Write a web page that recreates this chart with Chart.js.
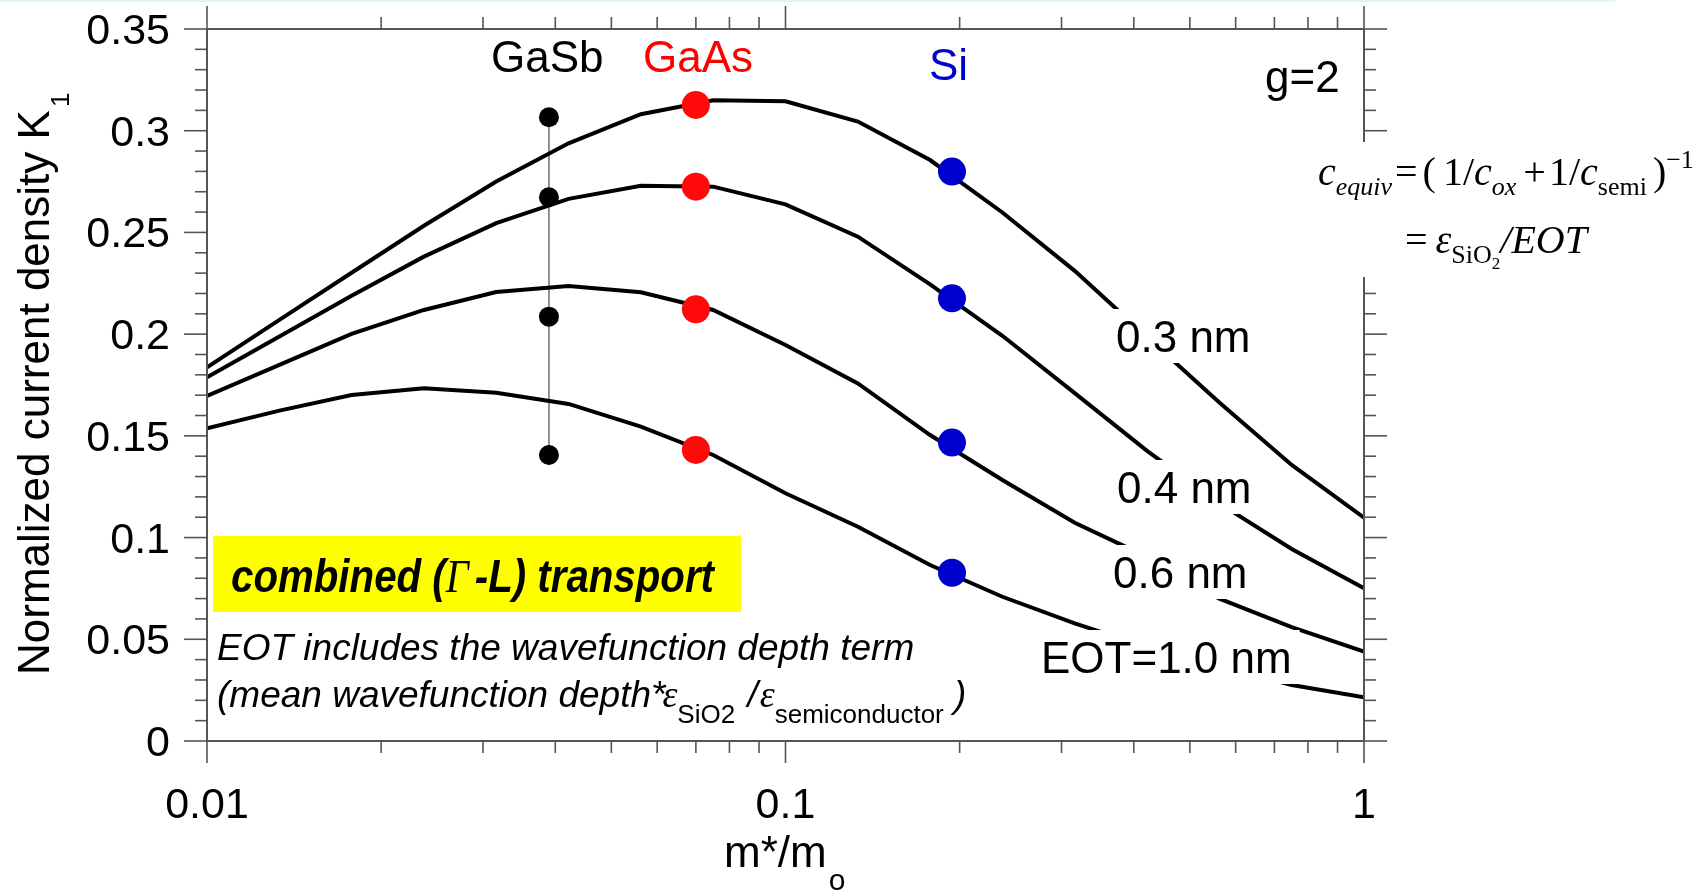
<!DOCTYPE html>
<html>
<head>
<meta charset="utf-8">
<script src="https://cdn.jsdelivr.net/npm/chart.js@4.4.1/dist/chart.umd.min.js"></script>
<style>
  html, body { margin: 0; padding: 0; background: #fff; }
  #chart { display: block; }
</style>
</head>
<body>
<canvas id="chart" width="1703" height="896" style="width:1703px;height:896px"></canvas>
<script>
// m*/mo grid the curves were computed on (8 points per decade)
const mass = [0.01, 0.01334, 0.01778, 0.02371, 0.03162, 0.04217, 0.05623, 0.07499, 0.1,
              0.1334, 0.1778, 0.2371, 0.3162, 0.4217, 0.5623, 0.7499, 1.0]

// normalized current density K1, one curve per EOT
const k1Eot03 = [0.1837, 0.2070, 0.2302, 0.2533, 0.2750, 0.2938, 0.3081, 0.3150, 0.3145,
                 0.3045, 0.2856, 0.2598, 0.2311, 0.1986, 0.1664, 0.1357, 0.1098]
const k1Eot04 = [0.1788, 0.1988, 0.2189, 0.2381, 0.2546, 0.2665, 0.2729, 0.2725, 0.2638,
                 0.2479, 0.2245, 0.1992, 0.1710, 0.1426, 0.1168, 0.0944, 0.0751]
const k1Eot06 = [0.1696, 0.1849, 0.2001, 0.2119, 0.2207, 0.2237, 0.2206, 0.2119, 0.1947,
                 0.1758, 0.1504, 0.1283, 0.1073, 0.0905, 0.0700, 0.0560, 0.0439]
const k1Eot10 = [0.1537, 0.1624, 0.1701, 0.1734, 0.1712, 0.1657, 0.1545, 0.1406, 0.1218,
                 0.1053, 0.0865, 0.0709, 0.0578, 0.0462, 0.0369, 0.0275, 0.0215]
const eotLabels = ["0.3 nm", "0.4 nm", "0.6 nm", "EOT=1.0 nm"]

// material points (same EOT order)
const materials = ["GaSb", "GaAs", "Si"]
const gasbMass = 0.039
const gaasMass = 0.070
const siMass = 0.194
const gasbK = [0.3066, 0.2673, 0.2086, 0.1406]
const gaasK = [0.3127, 0.2725, 0.2122, 0.1431]
const siK = [0.2799, 0.2176, 0.1467, 0.0827]

// axes
const yMajorTicks = [0, 0.05, 0.1, 0.15, 0.2, 0.25, 0.3, 0.35]
const yTickLabels = ["0", "0.05", "0.1", "0.15", "0.2", "0.25", "0.3", "0.35"]
const yMinorTicks = [0.01, 0.02, 0.03, 0.04, 0.06, 0.07, 0.08, 0.09, 0.11, 0.12, 0.13, 0.14,
                     0.16, 0.17, 0.18, 0.19, 0.21, 0.22, 0.23, 0.24, 0.26, 0.27, 0.28, 0.29,
                     0.31, 0.32, 0.33, 0.34]
const xMajorTicks = [0.01, 0.1, 1]
const xTickLabels = ["0.01", "0.1", "1"]
const xMinorTicks = [0.02, 0.03, 0.04, 0.05, 0.06, 0.07, 0.08, 0.09,
                     0.2, 0.3, 0.4, 0.5, 0.6, 0.7, 0.8, 0.9]

const SANS = "'Liberation Sans', Arial, sans-serif"
const SERIF = "'Liberation Serif', 'Times New Roman', serif"
const AXIS = "#555"

function curve(k) {
  return mass.map((m, i) => ({ x: m, y: k[i] }))
}
function dots(m, k) {
  return k.map(v => ({ x: m, y: v }))
}

// draw text runs one after another, returns the end x
function run(ctx, parts, x, y) {
  ctx.textAlign = "left"
  ctx.textBaseline = "alphabetic"
  for (const p of parts) {
    ctx.font = p.font
    ctx.fillStyle = p.color || "#000"
    x += p.dx || 0
    ctx.fillText(p.t, x, y + (p.dy || 0))
    x += ctx.measureText(p.t).width
  }
  return x
}
function runWidth(ctx, parts) {
  let w = 0
  for (const p of parts) { ctx.font = p.font; w += (p.dx || 0) + ctx.measureText(p.t).width }
  return w
}

function line(ctx, x1, y1, x2, y2) {
  ctx.beginPath(); ctx.moveTo(x1, y1); ctx.lineTo(x2, y2); ctx.stroke()
}

const decor = {
  id: "decor",
  beforeDraw(chart) {
    const ctx = chart.ctx
    ctx.save()
    ctx.fillStyle = "#fff"
    ctx.fillRect(0, 0, chart.width, chart.height)
    ctx.fillStyle = "#e2f6f6"
    ctx.fillRect(0, 0, 1615, 2)
    ctx.restore()
  },
  afterDraw(chart) {
    const ctx = chart.ctx
    const { left, right, top, bottom } = chart.chartArea
    const xs = chart.scales.x, ys = chart.scales.y
    ctx.save()

    // curve labels sit on white boxes that cut the lines
    const labelPos = [[1116, 352], [1117, 503], [1113, 588], [1041, 673]]
    ctx.font = `44px ${SANS}`
    eotLabels.forEach((s, i) => {
      const [lx, ly] = labelPos[i]
      const w = ctx.measureText(s).width
      ctx.fillStyle = "#fff"
      ctx.fillRect(lx - 8, ly - 43, w + 16, 54)
      run(ctx, [{ t: s, font: `44px ${SANS}` }], lx, ly)
    })

    // material names
    run(ctx, [{ t: materials[0], font: `44px ${SANS}` }], 491, 72)
    run(ctx, [{ t: materials[1], font: `44px ${SANS}`, color: "#ff0000" }], 643, 72)
    run(ctx, [{ t: materials[2], font: `44px ${SANS}`, color: "#0000cc" }], 929, 80)
    run(ctx, [{ t: "g=2", font: `44px ${SANS}` }], 1265, 92)

    // yellow note
    ctx.fillStyle = "#ffff00"
    ctx.fillRect(213, 536, 528, 76)
    const bi = `italic bold 46px ${SANS}`
    const note = [
      { t: "combined (", font: bi },
      { t: "\u0393", font: `italic 46px ${SERIF}` },
      { t: "-L) transport", font: bi, dx: 7 }
    ]
    const sx = 483 / runWidth(ctx, note)
    ctx.save()
    ctx.translate(231, 592)
    ctx.scale(sx, 1)
    run(ctx, note, 0, 0)
    ctx.restore()

    // italic remark
    const it = `italic 37px ${SANS}`
    run(ctx, [{ t: "EOT includes the wavefunction depth term", font: it }], 217, 660)
    run(ctx, [
      { t: "(mean wavefunction depth*", font: it },
      { t: "\u03b5", font: `italic 38px ${SERIF}`, dx: -3 },
      { t: "SiO2", font: `26px ${SANS}`, dy: 16 },
      { t: " /", font: it, dx: 2 },
      { t: "\u03b5", font: `italic 38px ${SERIF}`, dx: 2 },
      { t: "semiconductor", font: `26px ${SANS}`, dy: 16 },
      { t: " )", font: it }
    ], 217, 707)

    // axes frame and ticks (ticks point outward)
    ctx.strokeStyle = AXIS
    ctx.lineWidth = 2
    ctx.strokeRect(left, top, right - left, bottom - top)
    ctx.lineWidth = 1.6
    for (const v of yMajorTicks) {
      const y = ys.getPixelForValue(v)
      line(ctx, left - 23, y, left, y)
      line(ctx, right, y, right + 23, y)
    }
    for (const v of yMinorTicks) {
      const y = ys.getPixelForValue(v)
      line(ctx, left - 12, y, left, y)
      line(ctx, right, y, right + 12, y)
    }
    for (const v of xMajorTicks) {
      const x = xs.getPixelForValue(v)
      line(ctx, x, bottom, x, bottom + 22)
      line(ctx, x, top - 23, x, top)
    }
    for (const v of xMinorTicks) {
      const x = xs.getPixelForValue(v)
      line(ctx, x, bottom, x, bottom + 12)
      line(ctx, x, top - 12, x, top)
    }

    // tick labels
    ctx.fillStyle = "#000"
    ctx.font = `43px ${SANS}`
    ctx.textAlign = "right"
    ctx.textBaseline = "alphabetic"
    yMajorTicks.forEach((v, i) => {
      ctx.fillText(yTickLabels[i], left - 37, ys.getPixelForValue(v) + 15)
    })
    ctx.textAlign = "center"
    xMajorTicks.forEach((v, i) => {
      ctx.fillText(xTickLabels[i], xs.getPixelForValue(v), 818)
    })

    // axis titles
    run(ctx, [{ t: "m*/m", font: `44px ${SANS}` }, { t: "o", font: `30px ${SANS}`, dy: 23, dx: 2 }], 724, 867)
    ctx.save()
    ctx.translate(49, 675)
    ctx.rotate(-Math.PI / 2)
    run(ctx, [{ t: "Normalized current density K", font: `44px ${SANS}` }, { t: "1", font: `26px ${SANS}`, dy: 20, dx: 3 }], 0, 0)
    ctx.restore()

    // formula box hides the right axis behind it
    ctx.fillStyle = "#fff"
    ctx.fillRect(1300, 142, 403, 135)
    const ti = `italic 40px ${SERIF}`, tr = `40px ${SERIF}`
    const si = `italic 26px ${SERIF}`, sr = `26px ${SERIF}`
    run(ctx, [
      { t: "c", font: ti },
      { t: "equiv", font: si, dy: 10 },
      { t: "=", font: tr, dx: 3 },
      { t: "(", font: tr, dx: 5 },
      { t: "1/", font: tr, dx: 7 },
      { t: "c", font: ti },
      { t: "ox", font: si, dy: 10 },
      { t: "+", font: tr, dx: 7 },
      { t: "1/", font: tr, dx: 3 },
      { t: "c", font: ti },
      { t: "semi", font: sr, dy: 10 },
      { t: ")", font: tr, dx: 6 },
      { t: "\u22121", font: sr, dy: -17 }
    ], 1318, 185)
    run(ctx, [
      { t: "=", font: tr },
      { t: "\u03b5", font: ti, dx: 8 },
      { t: "SiO", font: sr, dy: 10 },
      { t: "2", font: `17px ${SERIF}`, dy: 16 },
      { t: "/EOT", font: ti }
    ], 1405, 253)

    ctx.restore()
  }
}

const gasbStem = [{ x: gasbMass, y: Math.max(...gasbK) }, { x: gasbMass, y: Math.min(...gasbK) }]

const ctx = document.getElementById("chart").getContext("2d")
new Chart(ctx, {
  type: "line",
  data: {
    datasets: [
      { data: gasbStem, borderColor: "#777", borderWidth: 1.6, pointRadius: 0, order: 10 },
      { data: curve(k1Eot03), borderColor: "#000", borderWidth: 4, pointRadius: 0, order: 5 },
      { data: curve(k1Eot04), borderColor: "#000", borderWidth: 4, pointRadius: 0, order: 5 },
      { data: curve(k1Eot06), borderColor: "#000", borderWidth: 4, pointRadius: 0, order: 5 },
      { data: curve(k1Eot10), borderColor: "#000", borderWidth: 4, pointRadius: 0, order: 5 },
      { data: dots(gasbMass, gasbK), showLine: false, pointRadius: 10, pointBackgroundColor: "#000", pointBorderWidth: 0, order: 1 },
      { data: dots(gaasMass, gaasK), showLine: false, pointRadius: 14, pointBackgroundColor: "#ff0a0a", pointBorderWidth: 0, order: 1 },
      { data: dots(siMass, siK), showLine: false, pointRadius: 14, pointBackgroundColor: "#0000cc", pointBorderWidth: 0, order: 1 }
    ]
  },
  options: {
    responsive: false,
    animation: false,
    parsing: false,
    layout: { padding: 0 },
    plugins: { legend: { display: false }, tooltip: { enabled: false } },
    elements: { line: { tension: 0, fill: false } },
    scales: {
      x: {
        type: "logarithmic", position: "bottom", min: 0.01, max: 1,
        ticks: { display: false }, grid: { display: false }, border: { display: false },
        afterFit: s => { s.height = 155 }
      },
      xTop: {
        type: "logarithmic", position: "top", min: 0.01, max: 1,
        ticks: { display: false }, grid: { display: false }, border: { display: false },
        afterFit: s => { s.height = 29 }
      },
      y: {
        type: "linear", position: "left", min: 0, max: 0.35,
        ticks: { display: false }, grid: { display: false }, border: { display: false },
        afterFit: s => { s.width = 207 }
      },
      yRight: {
        type: "linear", position: "right", min: 0, max: 0.35,
        ticks: { display: false }, grid: { display: false }, border: { display: false },
        afterFit: s => { s.width = 339 }
      }
    }
  },
  plugins: [decor]
})
</script>
</body>
</html>
